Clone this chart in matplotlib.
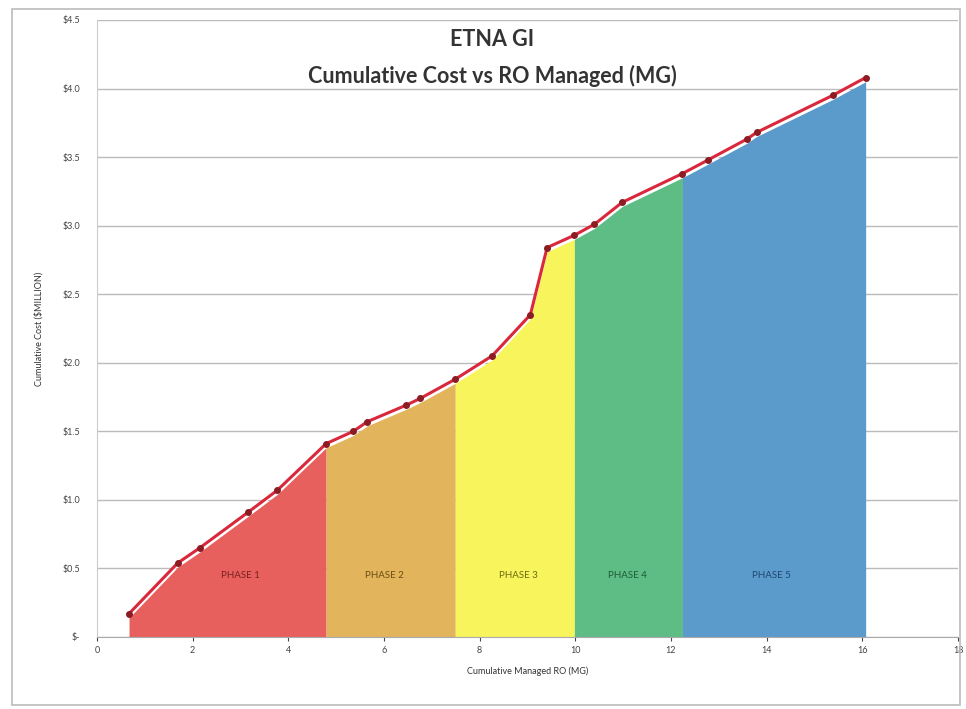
import matplotlib
matplotlib.use("Agg")
import matplotlib.pyplot as plt
from matplotlib.patches import Rectangle
import numpy as np

# cumulative managed RO (MG) and cumulative cost ($ million)
ro_mg = [0.67, 1.69, 2.15, 3.16, 3.77, 4.79, 5.36, 5.65, 6.46, 6.76, 7.49,
         8.26, 9.06, 9.41, 9.98, 10.40, 10.98, 12.24, 12.78, 13.58, 13.79,
         15.38, 16.07]
cost_musd = [0.17, 0.54, 0.65, 0.91, 1.07, 1.41, 1.50, 1.57, 1.69, 1.74, 1.88,
             2.05, 2.35, 2.84, 2.93, 3.01, 3.17, 3.38, 3.48, 3.63, 3.68,
             3.95, 4.08]

phase_names = ["PHASE 1", "PHASE 2", "PHASE 3", "PHASE 4", "PHASE 5"]
phase_edges = [0.67, 4.79, 7.49, 9.98, 12.24, 16.07]
phase_colors = ["#E8605E", "#E2B45C", "#F7F45C", "#5EBC85", "#5B9BCC"]
phase_text_colors = ["#7A1F1F", "#6B4D12", "#6B6A10", "#1E5B36", "#1F4570"]
phase_label_x = [3.0, 6.0, 8.8, 11.1, 14.1]

y_ticks = [0, 0.5, 1.0, 1.5, 2.0, 2.5, 3.0, 3.5, 4.0, 4.5]
y_tick_labels = ["$-", "$0.5", "$1.0", "$1.5", "$2.0", "$2.5", "$3.0", "$3.5", "$4.0", "$4.5"]
x_ticks = list(range(0, 19, 2))

plt.rcParams["font.family"] = ["Lato", "DejaVu Sans"]

fig = plt.figure(figsize=(9.66, 7.09), dpi=100)
ax = fig.add_axes([0.1004, 0.1016, 0.8913, 0.8702])

x = np.array(ro_mg)
y = np.array(cost_musd)

for i in range(len(phase_names)):
    lo, hi = phase_edges[i], phase_edges[i + 1]
    xs = np.linspace(lo, hi, 200)
    ys = np.interp(xs, x, y)
    ax.fill_between(xs, 0, ys - 0.03, color=phase_colors[i], lw=0, zorder=2)
    ax.text(phase_label_x[i], 0.45, phase_names[i], ha="center", va="center",
            fontsize=7, color=phase_text_colors[i], zorder=4)

ax.plot(x, y - 0.015, color="white", lw=1.5, zorder=3)
ax.plot(x, y, color="#D9283C", lw=2.2, marker="o", ms=4,
        mfc="#8C1C24", mec="#8C1C24", zorder=5)

ax.set_xlim(0, 18)
ax.set_ylim(0, 4.5)
ax.set_xticks(x_ticks)
ax.set_yticks(y_ticks)
ax.set_yticklabels(y_tick_labels)
ax.tick_params(axis="both", labelsize=6.5, colors="#444444", length=3)
ax.tick_params(axis="y", length=0, pad=12)
ax.grid(axis="y", color="#BBBBBB", lw=1, zorder=1)
ax.set_axisbelow(True)
for s in ["top", "right"]:
    ax.spines[s].set_visible(False)
ax.spines["left"].set_color("#CCCCCC")
ax.spines["bottom"].set_color("#AAAAAA")

ax.set_xlabel("Cumulative Managed RO (MG)", fontsize=6.5, color="#333333", labelpad=8)
ax.set_ylabel("Cumulative Cost ($MILLION)", fontsize=6.5, color="#333333", labelpad=14)

ax.text(0.459, 0.9676, "ETNA GI", transform=ax.transAxes, ha="center", va="center",
        fontsize=15.5, fontweight="bold", color="#333333")
ax.text(0.459, 0.9092, "Cumulative Cost vs RO Managed (MG)", transform=ax.transAxes,
        ha="center", va="center", fontsize=15.5, fontweight="bold", color="#333333")

fig.patches.append(Rectangle((0.012, 0.006), 0.982, 0.982, transform=fig.transFigure,
                             fill=False, ec="#BBBBBB", lw=1.2))

fig.savefig("out.png", dpi=100)
